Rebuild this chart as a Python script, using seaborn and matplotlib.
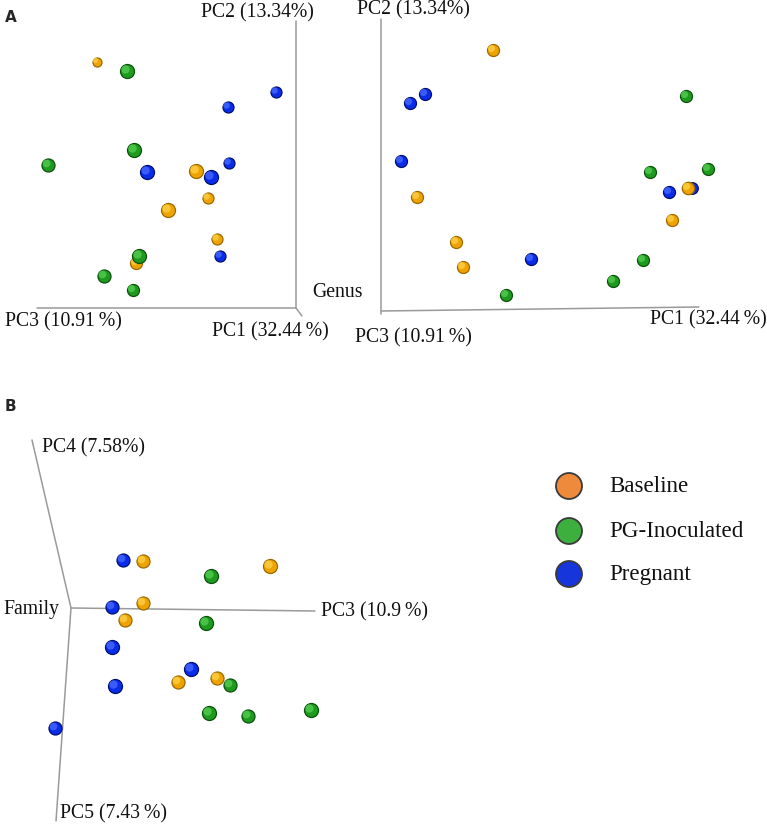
import matplotlib.pyplot as plt
import matplotlib.transforms as mtransforms
import pandas as pd
import seaborn as sns

# Projected PCoA scores as they appear on the page (pixel units)
groups = ["Baseline", "PG-Inoculated", "Pregnant"]

# Panel A, left view (Genus)
a1_x = {"Baseline": [97, 196, 208, 168, 217, 136],
        "PG-Inoculated": [127, 134, 48, 139, 104, 133],
        "Pregnant": [276, 228, 229, 147, 211, 220]}
a1_y = {"Baseline": [63, 172, 199, 211, 240, 264],
        "PG-Inoculated": [72, 151, 166, 257, 277, 291],
        "Pregnant": [93, 108, 164, 173, 178, 257]}
a1_r = {"Baseline": [4.5, 7, 5.5, 7, 5.5, 6],
        "PG-Inoculated": [7, 7, 6.5, 7, 6.5, 6],
        "Pregnant": [5.5, 5.5, 5.5, 7, 7, 5.5]}

# Panel A, right view (Genus)
a2_x = {"Baseline": [493, 417, 456, 463, 688, 672],
        "PG-Inoculated": [686, 650, 708, 643, 613, 506],
        "Pregnant": [425, 410, 401, 531, 669, 692]}
a2_y = {"Baseline": [51, 198, 243, 268, 189, 221],
        "PG-Inoculated": [97, 173, 170, 261, 282, 296],
        "Pregnant": [95, 104, 162, 260, 193, 189]}
a2_r = {"Baseline": [6, 6, 6, 6, 6.2, 6],
        "PG-Inoculated": [6, 6, 6, 6, 6, 6],
        "Pregnant": [6, 6, 6, 6, 6, 5.8]}

# Panel B (Family)
b_x = {"Baseline": [143, 270, 143, 125, 178, 217],
       "PG-Inoculated": [211, 206, 230, 209, 248, 311],
       "Pregnant": [123, 112, 112, 191, 115, 55]}
b_y = {"Baseline": [562, 567, 604, 621, 683, 679],
       "PG-Inoculated": [577, 624, 686, 714, 717, 711],
       "Pregnant": [561, 608, 648, 670, 687, 729]}
b_r = {"Baseline": [6.5, 7, 6.5, 6.5, 6.5, 6.5],
       "PG-Inoculated": [7, 7, 6.5, 7, 6.5, 7],
       "Pregnant": [6.5, 6.5, 7, 7, 7, 6.5]}

base_col = {"Baseline": "#EFA300", "PG-Inoculated": "#1E9A1E", "Pregnant": "#0A2CE8"}
edge_col = {"Baseline": "#9A6A00", "PG-Inoculated": "#0C520C", "Pregnant": "#001070"}
hi_col = {"Baseline": "#FFD24A", "PG-Inoculated": "#55D055", "Pregnant": "#4A6CFF"}
legend_col = {"Baseline": "#EE8A3C", "PG-Inoculated": "#3DAF3F", "Pregnant": "#1636DC"}

SERIF = ["Liberation Serif", "DejaVu Serif"]

sns.set_theme(style="white")
fig = plt.figure(figsize=(7.67, 8.28), dpi=100)
ax = fig.add_axes([0, 0, 1, 1])
ax.set_xlim(0, 767)
ax.set_ylim(828, 0)
ax.axis("off")


def to_frame(xs, ys, rs):
    rows = []
    for g in groups:
        for x, y, r in zip(xs[g], ys[g], rs[g]):
            rows.append({"x": x, "y": y, "r": r, "group": g})
    df = pd.DataFrame(rows)
    return df.sort_values("r", kind="stable").reset_index(drop=True)


def draw_spheres(df):
    # one point at a time so that nearer (larger) spheres overlap farther ones
    hl = ax.transData + mtransforms.ScaledTranslation(-1.2 / 72, 1.2 / 72, fig.dpi_scale_trans)
    for i, row in df.iterrows():
        s = (1.44 * row["r"] * 2 / 2) ** 2 * 4 / 4
        sub = df.iloc[[i]]
        sns.scatterplot(data=sub, x="x", y="y", hue="group", palette=base_col,
                        s=(1.44 * row["r"]) ** 2, edgecolor=edge_col[row["group"]],
                        linewidth=0.9, legend=False, ax=ax, zorder=3 + i)
        ax.scatter(sub["x"], sub["y"], s=s * 0.35, color=hi_col[row["group"]],
                   linewidth=0, alpha=0.75, transform=hl, zorder=3 + i + 0.5)


axis_kw = dict(color="#9a9a9a", lw=1.1, zorder=1)

# Panel A left axes
ax.plot([296, 296], [22, 309], **axis_kw)
ax.plot([37, 296], [309, 309], **axis_kw)
ax.plot([296, 302], [309, 317], **axis_kw)
# Panel A right axes
ax.plot([381, 381], [20, 315], **axis_kw)
ax.plot([381, 699], [312, 308], **axis_kw)
# Panel B axes
ax.plot([32, 71], [441, 609], **axis_kw)
ax.plot([71, 315], [609, 612], **axis_kw)
ax.plot([71, 56], [609, 822], **axis_kw)

draw_spheres(to_frame(a1_x, a1_y, a1_r))
draw_spheres(to_frame(a2_x, a2_y, a2_r))
draw_spheres(to_frame(b_x, b_y, b_r))

lab = dict(family=SERIF, fontsize=14.2, color="#111111")
ax.text(257, 13, "PC2 (13.34%)", ha="center", va="center", **lab)
ax.text(5, 322, "PC3 (10.91\u2009%)", ha="left", va="center", **lab)
ax.text(212, 332, "PC1 (32.44\u2009%)", ha="left", va="center", **lab)
ax.text(312, 293, "Genus", ha="left", va="center", **lab)
ax.text(357, 10, "PC2 (13.34%)", ha="left", va="center", **lab)
ax.text(650, 320, "PC1 (32.44\u2009%)", ha="left", va="center", **lab)
ax.text(355, 338, "PC3 (10.91\u2009%)", ha="left", va="center", **lab)
ax.text(42, 448, "PC4 (7.58%)", ha="left", va="center", **lab)
ax.text(3, 610, "Family", ha="left", va="center", **lab)
ax.text(321, 612, "PC3 (10.9\u2009%)", ha="left", va="center", **lab)
ax.text(60, 814, "PC5 (7.43\u2009%)", ha="left", va="center", **lab)

ax.text(5, 18, "A", family=["DejaVu Sans"], fontsize=11, fontweight="bold",
        ha="left", va="center")
ax.text(5, 407, "B", family=["DejaVu Sans"], fontsize=11, fontweight="bold",
        ha="left", va="center")

# Legend
leg_y = [487, 532, 575]
leg_df = pd.DataFrame({"x": [569] * 3, "y": leg_y, "group": groups})
sns.scatterplot(data=leg_df, x="x", y="y", hue="group", palette=legend_col,
                s=(1.44 * 13) ** 2, edgecolor="#3a3a3a", linewidth=1.3,
                legend=False, ax=ax, zorder=5)
for g, y in zip(groups, leg_y):
    ax.text(609, y, g, ha="left", va="center", family=SERIF, fontsize=16.6,
            color="#111111")

ax.set_xlabel("")
ax.set_ylabel("")
fig.savefig("out.png", dpi=100)
